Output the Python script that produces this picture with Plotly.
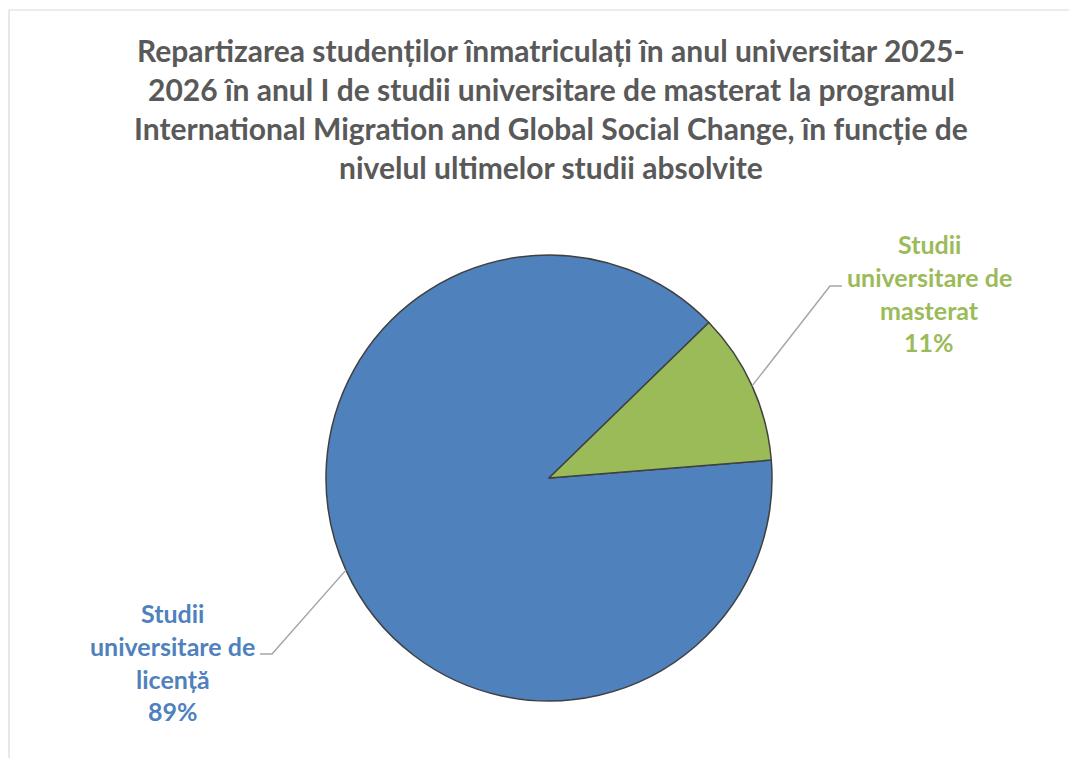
import math
import plotly.graph_objects as go

# ---- data ----
categories = ["Studii universitare de licență", "Studii universitare de masterat"]
values = [89, 11]
label_lines = [["Studii", "universitare de", "licență"],
               ["Studii", "universitare de", "masterat"]]
colors = ["#4F81BD", "#9BBB59"]
title_lines = [
    "Repartizarea studenților înmatriculați în anul universitar 2025-",
    "2026 în anul I de studii universitare de masterat la programul",
    "International Migration and Global Social Change, în funcție de",
    "nivelul ultimelor studii absolvite",
]

# ---- layout constants (pixels in the screenshot) ----
W, H = 1077, 758
OFF = 8  # page body margin
cx, cy, R = 549, 478, 223
rotation = 85.4
FONT = "Lato"
title_fs = 30
title_cx = 551
title_baselines = [61, 100, 138.5, 177.5]
label_fs = 25
label_cx = [172.5, 929]
label_first_baseline = [622, 253]
label_spacing = 32.8
elbows = [((272, 654), (260, 654)), ((830, 286), (842, 286))]


def px(x):
    return (x - OFF) / W


def py(y):
    return 1 - (y - OFF) / H


total = sum(values)
fig = go.Figure(go.Pie(
    labels=categories, values=values, sort=False, direction="clockwise",
    rotation=rotation,
    marker=dict(colors=colors, line=dict(color="#404040", width=1.5)),
    textinfo="none", hoverinfo="label+percent", showlegend=False,
    domain=dict(x=[px(cx - R), px(cx + R)], y=[py(cy + R), py(cy - R)]),
))

annotations = []
shapes = []

# title lines
for t, b in zip(title_lines, title_baselines):
    annotations.append(dict(
        text="<b>%s</b>" % t, x=px(title_cx), y=py(b - 0.36 * title_fs),
        xref="paper", yref="paper", xanchor="center", yanchor="middle",
        showarrow=False, font=dict(family=FONT, size=title_fs, color="#595959")))

# data labels with leader lines
cum = 0
for i, v in enumerate(values):
    mid = math.radians(rotation + (cum + v / 2) / total * 360)
    cum += v
    ex, ey = cx + R * math.sin(mid), cy - R * math.cos(mid)
    (bx, by), (ox, oy) = elbows[i]
    shapes.append(dict(type="path",
                       path="M %f %f L %f %f L %f %f" % (px(ex), py(ey), px(bx), py(by), px(ox), py(oy)),
                       xref="paper", yref="paper", line=dict(color="#A6A6A6", width=1.5)))
    pct = "%d%%" % round(100 * v / total)
    lines = label_lines[i] + [pct]
    for j, ln in enumerate(lines):
        b = label_first_baseline[i] + j * label_spacing
        annotations.append(dict(
            text="<b>%s</b>" % ln, x=px(label_cx[i]), y=py(b - 0.36 * label_fs),
            xref="paper", yref="paper", xanchor="center", yanchor="middle",
            showarrow=False, font=dict(family=FONT, size=label_fs, color=colors[i])))

# chart area border (top and left edges visible)
shapes.append(dict(type="line", x0=px(9), x1=1, y0=py(10), y1=py(10), xref="paper", yref="paper",
                   line=dict(color="#D9D9D9", width=1.2)))
shapes.append(dict(type="line", x0=px(9), x1=px(9), y0=py(10), y1=0, xref="paper", yref="paper",
                   line=dict(color="#D9D9D9", width=1.2)))

fig.update_layout(
    width=W, height=H, margin=dict(l=0, r=0, t=0, b=0),
    paper_bgcolor="white", plot_bgcolor="white",
    annotations=annotations, shapes=shapes, showlegend=False,
)
fig.write_html("out.html")
